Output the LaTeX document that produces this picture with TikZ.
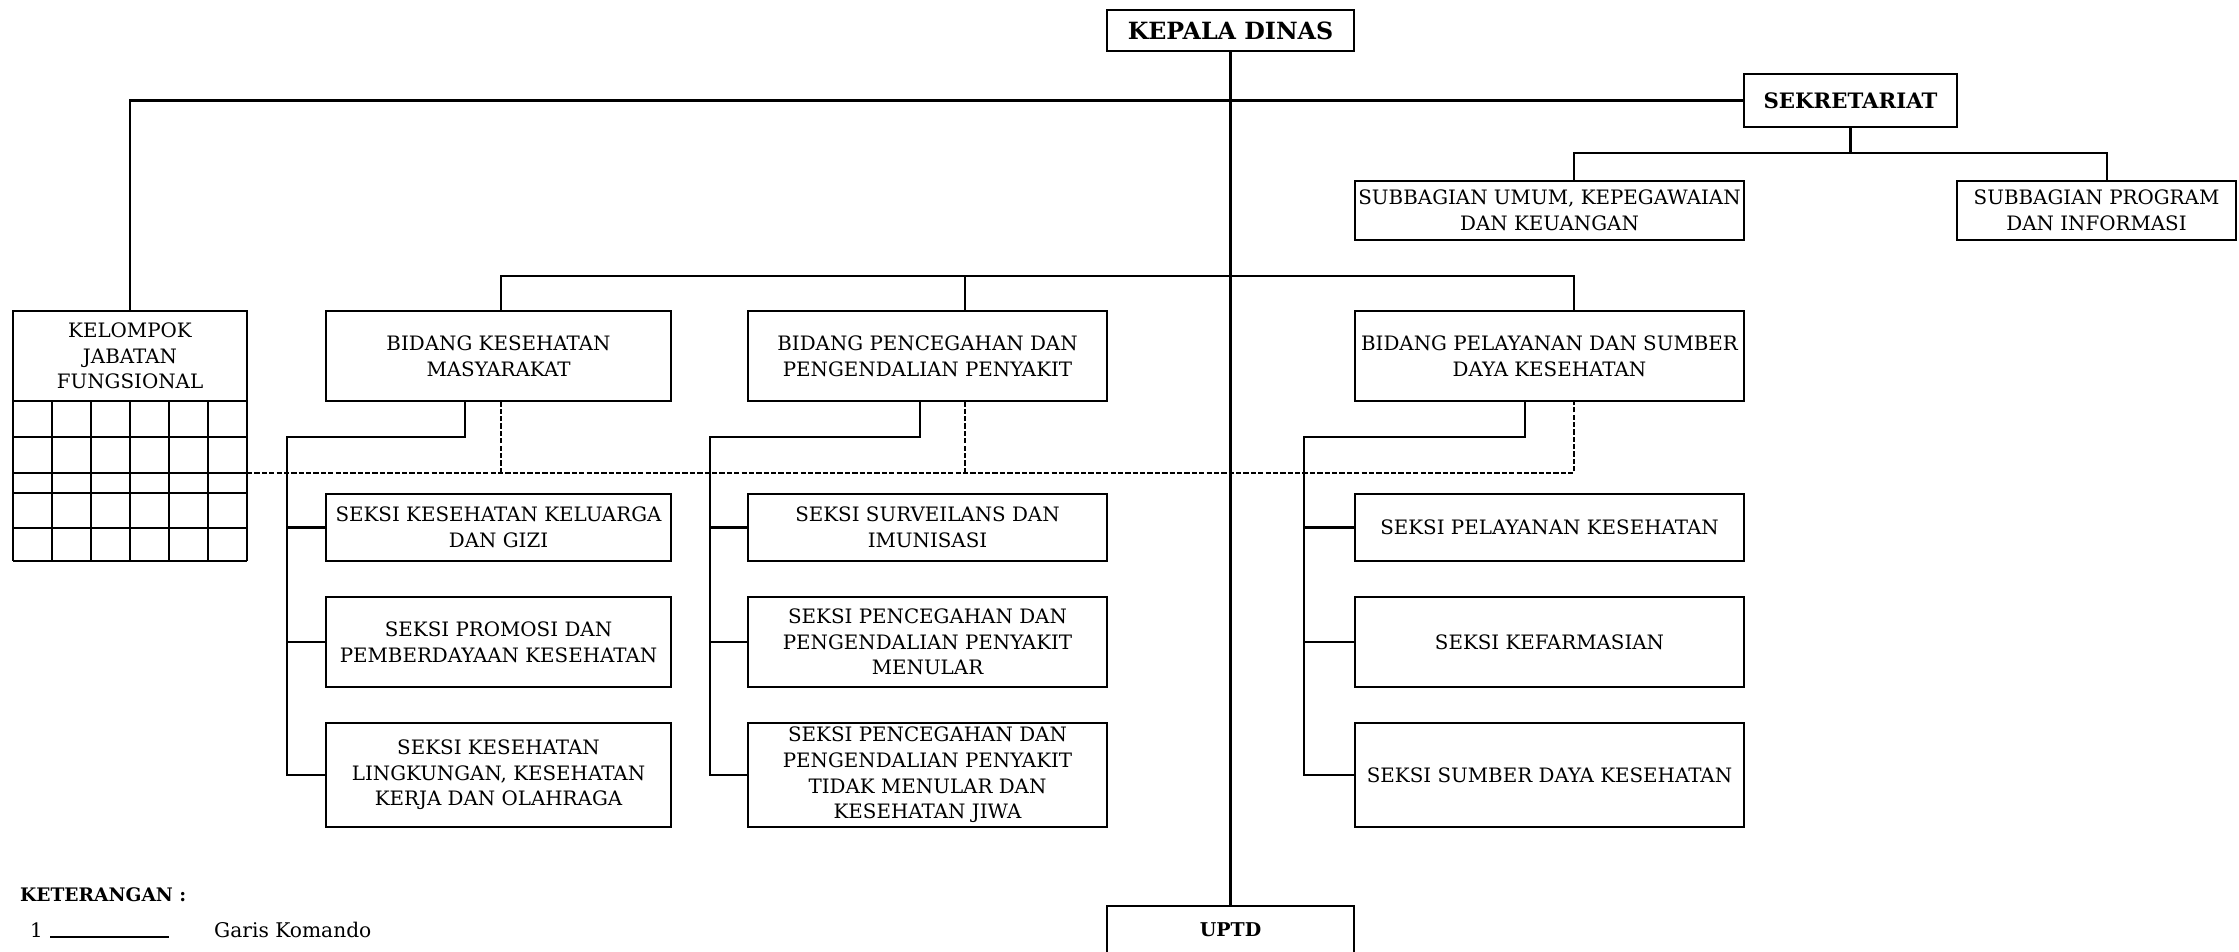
\documentclass[tikz,border=0pt]{standalone}
\usepackage{fontspec}
\setmainfont{DejaVu Serif}
\usepackage{tikz}
\usetikzlibrary{calc}

\begin{document}
\begin{tikzpicture}[x=0.2mm, y=-0.2mm,
    kotak/.style={draw, line width=1.4pt, align=center, inner sep=1pt, font=\fontsize{11.3}{14.6}\selectfont},
    tebal/.style={font=\bfseries\fontsize{13.5}{15}\selectfont},
    garis/.style={line width=1.4pt},
    putus/.style={line width=1pt, dash pattern=on 3pt off 1.2pt}]
    \useasboundingbox (0,0) rectangle (2239,951);

    % Pimpinan
    \node[kotak, tebal, minimum width=49.4mm, minimum height=8.2mm] (kadis) at (1230.5,30.5) {KEPALA DINAS};
    \node[kotak, tebal, font=\bfseries\fontsize{12.1}{14}\selectfont, minimum width=42.6mm, minimum height=10.6mm] (sekre) at (1850.5,100.5) {SEKRETARIAT};
    \node[kotak, minimum width=77.8mm, minimum height=11.8mm] (subum) at (1549.5,210.5) {SUBBAGIAN UMUM, KEPEGAWAIAN\\DAN KEUANGAN};
    \node[kotak, minimum width=55.8mm, minimum height=11.8mm] (subprog) at (2096.5,210.5) {SUBBAGIAN PROGRAM\\DAN INFORMASI};

    % Kelompok jabatan fungsional
    \node[kotak, minimum width=46.8mm, minimum height=18mm] (kjf) at (130,356) {KELOMPOK\\JABATAN\\FUNGSIONAL};
    \foreach \yy in {437,473,493,528,561}
        \draw[garis] (13,\yy) -- (247,\yy);
    \foreach \xx in {13,52,...,247}
        \draw[garis] (\xx,401) -- (\xx,561);
    \coordinate (kjfr) at (247,473);

    % Bidang
    \node[kotak, minimum width=69mm, minimum height=18mm] (bid1) at (498.5,356) {BIDANG KESEHATAN\\MASYARAKAT};
    \node[kotak, minimum width=71.8mm, minimum height=18mm] (bid2) at (927.5,356) {BIDANG PENCEGAHAN DAN\\PENGENDALIAN PENYAKIT};
    \node[kotak, minimum width=77.8mm, minimum height=18mm] (bid3) at (1549.5,356) {BIDANG PELAYANAN DAN SUMBER\\DAYA KESEHATAN};

    % Seksi
    \node[kotak, minimum width=69mm, minimum height=13.4mm] (s11) at (498.5,527.5) {SEKSI KESEHATAN KELUARGA\\DAN GIZI};
    \node[kotak, minimum width=69mm, minimum height=18mm] (s12) at (498.5,642) {SEKSI PROMOSI DAN\\PEMBERDAYAAN KESEHATAN};
    \node[kotak, minimum width=69mm, minimum height=20.8mm] (s13) at (498.5,775) {SEKSI KESEHATAN\\LINGKUNGAN, KESEHATAN\\KERJA DAN OLAHRAGA};
    \node[kotak, minimum width=71.8mm, minimum height=13.4mm] (s21) at (927.5,527.5) {SEKSI SURVEILANS DAN\\IMUNISASI};
    \node[kotak, minimum width=71.8mm, minimum height=18mm] (s22) at (927.5,642) {SEKSI PENCEGAHAN DAN\\PENGENDALIAN PENYAKIT\\MENULAR};
    \node[kotak, minimum width=71.8mm, minimum height=20.8mm] (s23) at (927.5,775) {SEKSI PENCEGAHAN DAN\\PENGENDALIAN PENYAKIT\\TIDAK MENULAR DAN\\KESEHATAN JIWA};
    \node[kotak, minimum width=77.8mm, minimum height=13.4mm] (s31) at (1549.5,527.5) {SEKSI PELAYANAN KESEHATAN};
    \node[kotak, minimum width=77.8mm, minimum height=18mm] (s32) at (1549.5,642) {SEKSI KEFARMASIAN};
    \node[kotak, minimum width=77.8mm, minimum height=20.8mm] (s33) at (1549.5,775) {SEKSI SUMBER DAYA KESEHATAN};

    % UPTD (terpotong di bawah)
    \node[kotak, tebal, font=\bfseries\fontsize{10.8}{12}\selectfont, anchor=north, minimum width=49.4mm, text height=5.6mm, text depth=12mm] (uptd) at (1230.5,905) {UPTD};

    % Titik bantu
    \coordinate (sekbus) at (1850.5,153);
    \coordinate (ub) at (1574,153);
    \coordinate (pb) at (2107,153);
    \coordinate (b1top) at (501,276);
    \coordinate (b2top) at (965,276);
    \coordinate (b3top) at (1574,276);
    \coordinate (t1) at (465,437);  \coordinate (k1) at (287,437);
    \coordinate (t2) at (920,437);  \coordinate (k2) at (710,437);
    \coordinate (t3) at (1525,437); \coordinate (k3) at (1304,437);
    \coordinate (d1) at (501,473);
    \coordinate (d2) at (965,473);
    \coordinate (d3) at (1574,473);

    % Garis koordinasi (putus-putus)
    \draw[putus] (kjfr) -- (d3) -- (d3 |- bid3.south);
    \draw[putus] (d1) -- (d1 |- bid1.south);
    \draw[putus] (d2) -- (d2 |- bid2.south);

    % Garis komando
    \draw[garis] (kadis.south) -- (uptd.north);
    \draw[garis] (sekre.west) -| (kjf.north);
    \draw[garis] (sekre.south) -- (sekbus);
    \draw[garis] (ub |- subum.north) -- (ub) -- (pb) -- (pb |- subprog.north);
    \draw[garis] (b1top |- bid1.north) -- (b1top) -- (b3top) -- (b3top |- bid3.north);
    \draw[garis] (b2top) -- (b2top |- bid2.north);

    \draw[garis] (t1 |- bid1.south) -- (t1) -- (k1) |- (s13.west);
    \draw[garis] (k1 |- s11.west) -- (s11.west);
    \draw[garis] (k1 |- s12.west) -- (s12.west);
    \draw[garis] (t2 |- bid2.south) -- (t2) -- (k2) |- (s23.west);
    \draw[garis] (k2 |- s21.west) -- (s21.west);
    \draw[garis] (k2 |- s22.west) -- (s22.west);
    \draw[garis] (t3 |- bid3.south) -- (t3) -- (k3) |- (s33.west);
    \draw[garis] (k3 |- s31.west) -- (s31.west);
    \draw[garis] (k3 |- s32.west) -- (s32.west);

    % Keterangan
    \node[anchor=west, font=\bfseries\fontsize{10.6}{12}\selectfont] (ket) at (14,895) {KETERANGAN :};
    \node[anchor=west, font=\fontsize{11.3}{12}\selectfont] (no1) at (24,930) {1};
    \coordinate (ga) at (50,937);
    \coordinate (gb) at (169,937);
    \draw[garis] (ga) -- (gb);
    \node[anchor=west, font=\fontsize{11.5}{12}\selectfont] (komando) at (208,930) {Garis Komando};
\end{tikzpicture}
\end{document}
